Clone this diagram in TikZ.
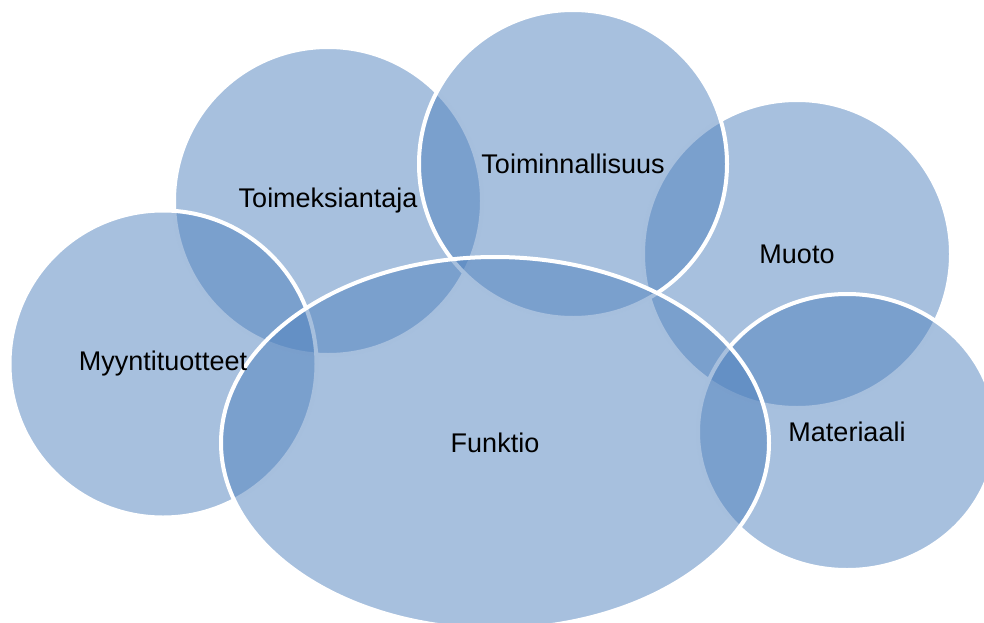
\documentclass[tikz,border=0pt]{standalone}
\usepackage{fontspec}
\setmainfont{Liberation Sans}
\usepackage{tikz}
\usetikzlibrary{shapes.geometric,positioning}
\usepackage{xcolor}
\definecolor{accblue}{RGB}{79,129,189}
\newcommand{\rimw}{4pt}
\tikzset{
    setsty/.style={fill=accblue,fill opacity=0.5,draw=white,draw opacity=1,line width=\rimw,inner sep=0pt,outer sep=0pt,anchor=center},
    circsty/.style={setsty,circle,minimum size=#1},
    ovalsty/.style={setsty,ellipse},
    namesty/.style={text=black,font=\fontsize{27}{31}\selectfont,inner sep=0pt,anchor=center},
}

\begin{document}
\begin{tikzpicture}[x=1pt,y=-1pt]
\useasboundingbox (0,0) rectangle (984,623);
% sets, back to front
\node[circsty=308pt] (toim)   at (328,201) {};
\node[circsty=308pt] (muoto)  at (797,254) {};
\node[circsty=307pt] (myynti) at (163,364) {};
\node[circsty=308pt] (toimi)  at (573,164) {};
\node[ovalsty,minimum width=298pt,minimum height=276pt] (mater) at (847,432) {};
\node[ovalsty,minimum width=548pt,minimum height=372pt] (funk)  at (495,443) {};

% names
\node[namesty] (toimtxt)   at (toim.center)   {Toimeksiantaja};
\node[namesty] (muototxt)  at (muoto.center)  {Muoto};
\node[namesty] (myyntitxt) at (myynti.center) {Myyntituotteet};
\node[namesty] (toimitxt)  at (toimi.center)  {Toiminnallisuus};
\node[namesty] (matertxt)  at (mater.center)  {Materiaali};
\node[namesty] (funktxt)   at (funk.center)   {Funktio};
\end{tikzpicture}
\end{document}
